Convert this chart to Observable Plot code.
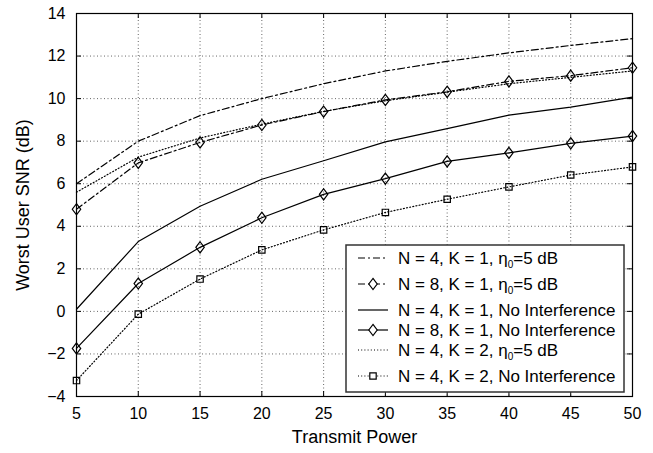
<!DOCTYPE html>
<html><head><meta charset="utf-8">
<script src="https://cdn.jsdelivr.net/npm/d3@7"></script>
<script src="https://cdn.jsdelivr.net/npm/@observablehq/plot@0.6"></script>
<style>body{margin:0;background:#fff;} #chart{position:relative;width:653px;height:453px;}</style>
</head><body><div id="chart"></div>
<script>
// ---- data ----
const power = [5, 10, 15, 20, 25, 30, 35, 40, 45, 50];
const snrN4K1Eta   = [6.0, 8.0, 9.2, 10.0, 10.7, 11.3, 11.75, 12.15, 12.5, 12.82];
const snrN8K1Eta   = [4.8, 6.98, 7.94, 8.76, 9.39, 9.94, 10.32, 10.81, 11.08, 11.45];
const snrN4K1NoInt = [0.1, 3.28, 4.94, 6.21, 7.08, 7.97, 8.59, 9.22, 9.6, 10.07];
const snrN8K1NoInt = [-1.74, 1.31, 3.01, 4.4, 5.5, 6.24, 7.05, 7.45, 7.9, 8.24];
const snrN4K2Eta   = [5.6, 7.25, 8.15, 8.8, 9.4, 9.9, 10.3, 10.7, 11.0, 11.3];
const snrN4K2NoInt = [-3.25, -0.13, 1.52, 2.89, 3.83, 4.65, 5.27, 5.85, 6.41, 6.79];
const xTicks = [5, 10, 15, 20, 25, 30, 35, 40, 45, 50];
const yTicks = [-4, -2, 0, 2, 4, 6, 8, 10, 12, 14];
const xLabel = "Transmit Power";
const yLabel = "Worst User SNR (dB)";
const legendNames = [
  ["N = 4, K = 1, ", "η", "0", "=5 dB"],
  ["N = 8, K = 1, ", "η", "0", "=5 dB"],
  ["N = 4, K = 1, No Interference"],
  ["N = 8, K = 1, No Interference"],
  ["N = 4, K = 2, ", "η", "0", "=5 dB"],
  ["N = 4, K = 2, No Interference"]
];

// ---- styles ----
const W = 653, H = 453;
const mL = 76, mR = 21, mT = 13, mB = 57;
const fw = W - mL - mR, fh = H - mT - mB;
const font = "'Liberation Sans', Arial, sans-serif";
const dashDot = "7,3,2,3", dotted = "1,2.2";
const diamondTall = {
  draw(ctx) { const w = 4.2, h = 5.6; ctx.moveTo(0, -h); ctx.lineTo(w, 0); ctx.lineTo(0, h); ctx.lineTo(-w, 0); ctx.closePath(); }
};
const seriesValues = [snrN4K1Eta, snrN8K1Eta, snrN4K1NoInt, snrN8K1NoInt, snrN4K2Eta, snrN4K2NoInt];
const seriesStyle = [
  {dashArr: dashDot, sym: null},
  {dashArr: dashDot, sym: diamondTall},
  {dashArr: null, sym: null},
  {dashArr: null, sym: diamondTall},
  {dashArr: dotted, sym: null},
  {dashArr: dotted, sym: "square"}
];

const tables = seriesValues.map(vals => power.map((p, i) => ({x: p, y: vals[i]})));

const marks = [
  Plot.gridX(xTicks, {stroke: "#666", strokeOpacity: 1, strokeDasharray: "1,2.5"}),
  Plot.gridY(yTicks, {stroke: "#666", strokeOpacity: 1, strokeDasharray: "1,2.5"}),
];
tables.forEach((t, i) => {
  const s = seriesStyle[i];
  marks.push(Plot.line(t, {x: "x", y: "y", stroke: "black", strokeWidth: 1.2, strokeDasharray: s.dashArr || undefined}));
  if (s.sym) marks.push(Plot.dot(t, {x: "x", y: "y", symbol: s.sym, r: 3.6, stroke: "black", strokeWidth: 1.2, fill: "none"}));
});
marks.push(
  Plot.tickX(xTicks, {x: d => d, insetTop: fh - 5, stroke: "black"}),
  Plot.tickX(xTicks, {x: d => d, insetBottom: fh - 5, stroke: "black"}),
  Plot.tickY(yTicks, {y: d => d, insetRight: fw - 5, stroke: "black"}),
  Plot.tickY(yTicks, {y: d => d, insetLeft: fw - 5, stroke: "black"}),
  Plot.frame({stroke: "black", strokeWidth: 1.2}),
  Plot.axisX({ticks: xTicks, tickSize: 0, tickPadding: 11, label: null, fontSize: 16}),
  Plot.axisY({ticks: yTicks, tickSize: 0, tickPadding: 11, label: null, fontSize: 16}),
  Plot.text([xLabel], {frameAnchor: "bottom", dy: 41, text: d => d, fontSize: 18, lineAnchor: "middle", textAnchor: "middle"}),
  Plot.text([yLabel], {frameAnchor: "left", dx: -53, rotate: -90, text: d => d, fontSize: 18, lineAnchor: "middle", textAnchor: "middle"})
);

const chart = Plot.plot({
  width: W, height: H,
  marginLeft: mL, marginRight: mR, marginTop: mT, marginBottom: mB,
  x: {domain: [5, 50]},
  y: {domain: [-4, 14]},
  style: {fontFamily: font, fontSize: "16px", background: "white", color: "black"},
  marks
});
document.getElementById("chart").appendChild(chart);

// ---- legend ----
const svg = d3.select(chart);
const lx0 = 346, ly0 = 245, lx1 = 624, ly1 = 392;
const lg = svg.append("g").attr("font-family", font).attr("font-size", 17).attr("text-anchor", "start");
lg.append("rect").attr("x", lx0).attr("y", ly0).attr("width", lx1 - lx0).attr("height", ly1 - ly0)
  .attr("fill", "white").attr("stroke", "#333").attr("stroke-width", 1.5);
let yc = 258;
legendNames.forEach((parts, i) => {
  if (i > 0) yc += 20 + (legendNames[i - 1].length > 1 ? 6 : 0);
  const s = seriesStyle[i];
  lg.append("line").attr("x1", 358).attr("x2", 388).attr("y1", yc).attr("y2", yc)
    .attr("stroke", "black").attr("stroke-width", 1.2).attr("stroke-dasharray", s.dashArr || null);
  if (s.sym) {
    const p = d3.path();
    if (s.sym === "square") { p.rect(-3.2, -3.2, 6.4, 6.4); } else { s.sym.draw(p); }
    lg.append("path").attr("d", p.toString()).attr("transform", `translate(373,${yc})`)
      .attr("fill", "white").attr("stroke", "black").attr("stroke-width", 1.2);
  }
  const t = lg.append("text").attr("x", 398).attr("y", yc + 6).attr("text-anchor", "start");
  if (parts.length === 1) t.text(parts[0]);
  else {
    t.append("tspan").text(parts[0]);
    t.append("tspan").text(parts[1]);
    t.append("tspan").text(parts[2]).attr("font-size", 10).attr("dy", 4);
    t.append("tspan").text(parts[3]).attr("dy", -4);
  }
});
</script>
</body></html>
